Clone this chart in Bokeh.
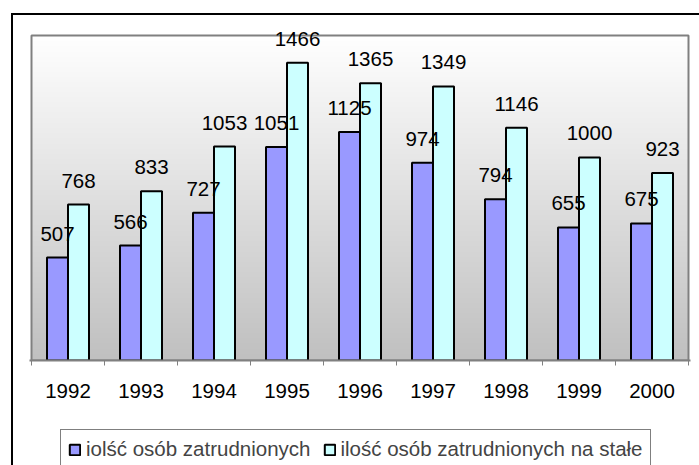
import numpy as np
from bokeh.plotting import figure
from bokeh.layouts import column
from bokeh.models import (Range1d, FixedTicker, ColumnDataSource, Legend, LegendItem)
from bokeh.embed import file_html
from bokeh.resources import INLINE

years = ["1992", "1993", "1994", "1995", "1996", "1997", "1998", "1999", "2000"]
employed = [507, 566, 727, 1051, 1125, 974, 794, 655, 675]
employed_perm = [768, 833, 1053, 1466, 1365, 1349, 1146, 1000, 923]
series_names = ["iolść osób zatrudnionych", "ilość osób zatrudnionych na stałe"]
colors = ["#9999FF", "#CCFFFF"]

YMAX = 1600
FONT = "Liberation Sans"
FS = "20.5px"
n = len(years)
centers = np.arange(n) + 0.5
BW = 0.288
off = BW / 2

W = 686
H1 = 405
H2 = 45
AREA_W = 657      # plot-area width in px
AREA_H = 325      # plot-area height in px
TOP_GAP = 20      # space above plot area (kept inside the frame so labels are not clipped)
PADX = 2 * n / AREA_W

p = figure(width=W, height=H1, output_backend="svg", toolbar_location=None,
           x_range=Range1d(-PADX, n + PADX),
           y_range=Range1d(0, YMAX * (AREA_H + TOP_GAP) / AREA_H),
           min_border_left=16, min_border_right=9, min_border_top=0,
           min_border_bottom=H1 - AREA_H - TOP_GAP)

# gradient plot-area background
N = 256
t = np.linspace(0, 1, N)  # bottom -> top
g = (192 + (255 - 192) * t).astype(np.uint32)
img = np.empty((N, 1), dtype=np.uint32)
img[:, 0] = (255 << 24) | (g << 16) | (g << 8) | g
p.image_rgba(image=[img], x=0, y=0, dw=n, dh=YMAX)
p.quad(left=[0], right=[n], bottom=[0], top=[YMAX], fill_color=None,
       line_color="#808080", line_width=2)

src = ColumnDataSource(dict(x1=centers - off, x2=centers + off,
                            v1=employed, v2=employed_perm,
                            t1=[str(v) for v in employed], t2=[str(v) for v in employed_perm]))
r1 = p.vbar(x="x1", top="v1", width=BW, source=src, fill_color=colors[0],
            line_color="black", line_width=2)
r2 = p.vbar(x="x2", top="v2", width=BW, source=src, fill_color=colors[1],
            line_color="black", line_width=2)

for xc, yc, tc in (("x1", "v1", "t1"), ("x2", "v2", "t2")):
    p.text(x=xc, y=yc, text=tc, source=src, text_align="center",
           text_baseline="alphabetic", y_offset=-24, text_font={"value": FONT},
           text_font_size=FS, text_color="black")

p.grid.visible = False
p.yaxis.visible = False
p.background_fill_color = None
p.border_fill_color = "white"
p.outline_line_color = None

ax = p.xaxis[0]
ax.ticker = FixedTicker(ticks=list(centers), minor_ticks=list(range(n + 1)))
ax.major_label_overrides = {float(c): y for c, y in zip(centers, years)}
ax.major_tick_out = 0
ax.major_tick_in = 0
ax.minor_tick_out = 5
ax.minor_tick_in = 0
ax.minor_tick_line_color = "#808080"
ax.axis_line_color = "#808080"
ax.axis_line_width = 2
ax.major_label_text_font = FONT
ax.major_label_text_font_size = FS
ax.major_label_text_color = "black"
ax.major_label_standoff = 18

# legend strip (its lower edge is cut off by the window, as in the reference)
lf = figure(width=W, height=H2, output_backend="svg", toolbar_location=None,
            x_range=Range1d(0, 1), y_range=Range1d(0, 1),
            min_border_left=0, min_border_right=0, min_border_top=0, min_border_bottom=0)
lf.axis.visible = False
lf.grid.visible = False
lf.outline_line_color = None
# tiny proxies hidden behind the legend box, only used for the legend swatches
lsrc = ColumnDataSource(dict(x=[0.5], bottom=[0.3], top=[0.35]))
l1 = lf.vbar(x="x", bottom="bottom", top="top", width=0.005, source=lsrc,
             fill_color=colors[0], line_color="black", line_width=2)
l2 = lf.vbar(x="x", bottom="bottom", top="top", width=0.005, source=lsrc,
             fill_color=colors[1], line_color="black", line_width=2)
legend = Legend(items=[LegendItem(label=series_names[0], renderers=[l1]),
                       LegendItem(label=series_names[1], renderers=[l2])],
                orientation="horizontal", location=(31, -4),
                padding=7, spacing=12, label_standoff=5, glyph_width=13, glyph_height=13,
                label_text_font=FONT, label_text_font_size=FS,
                border_line_color="black", border_line_width=1,
                background_fill_color="white", background_fill_alpha=1,
                margin=0)
lf.add_layout(legend, "center")

layout = column(p, lf, spacing=0)
layout.margin = (13, 0, 0, 11)
layout.styles = {"border-left": "2px solid black", "border-top": "2px solid black"}

open("out.html", "w").write(file_html(layout, INLINE))
